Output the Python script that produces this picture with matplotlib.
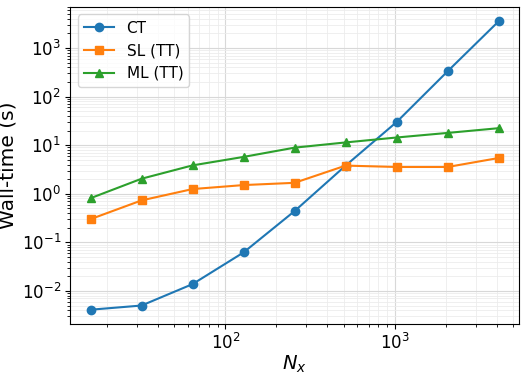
import matplotlib
matplotlib.use("Agg")
import matplotlib.pyplot as plt

nx = [16, 32, 64, 128, 256, 512, 1024, 2048, 4096]
ct = [0.0041, 0.005, 0.0138, 0.062, 0.44, 3.8, 30, 333, 3560]
sl_tt = [0.30, 0.73, 1.25, 1.51, 1.68, 3.8, 3.56, 3.56, 5.45]
ml_tt = [0.81, 2.04, 3.84, 5.74, 8.9, 11.4, 14.4, 17.9, 22.4]

fig = plt.figure(figsize=(5.27, 3.80), dpi=100)
ax = fig.add_axes([0.133, 0.147, 0.852, 0.835])

ax.plot(nx, ct, marker='o', color='#1f77b4', label='CT')
ax.plot(nx, sl_tt, marker='s', color='#ff7f0e', label='SL (TT)')
ax.plot(nx, ml_tt, marker='^', color='#2ca02c', label='ML (TT)')

ax.set_xscale('log')
ax.set_yscale('log')
ax.grid(True, which='major', color='#d8d8d8', linewidth=0.8)
ax.grid(True, which='minor', color='#ececec', linewidth=0.6)
ax.set_axisbelow(True)

ax.set_xlabel(r'$N_x$', fontsize=14, labelpad=0)
ax.set_ylabel('Wall-time (s)', fontsize=14.5, labelpad=3)
ax.tick_params(axis='both', which='major', labelsize=12, pad=3)
ax.legend(loc='upper left', fontsize=11)

fig.savefig('out.png', dpi=100)
